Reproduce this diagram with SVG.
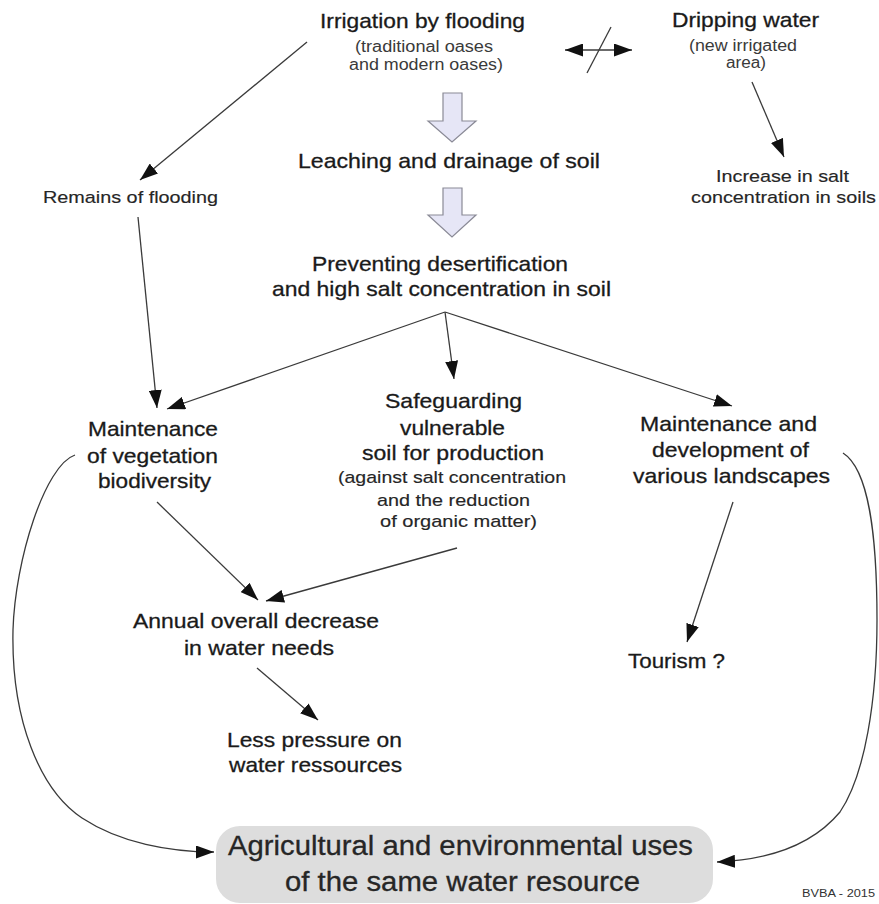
<svg xmlns="http://www.w3.org/2000/svg" width="879" height="904" viewBox="0 0 879 904">
<style>
text{font-family:"Liberation Sans",Arial,sans-serif;fill:#1a1a1a}
.m{font-size:21px;stroke:#1a1a1a;stroke-width:0.3}
.s{font-size:16px;fill:#3a3a3a}
.r{font-size:17px;fill:#262626;stroke:#262626;stroke-width:0.15}
.b{font-size:27px;fill:#262626;stroke:#262626;stroke-width:0.3}
.c{font-size:10px;fill:#333}
.ln{fill:none;stroke:#3a3a3a;stroke-width:1.3}
.blk{fill:#e6e6f6;stroke:#8a8a96;stroke-width:1.2}
</style>
<defs>
<marker id="ah" viewBox="0 0 18 13" refX="18" refY="6.5" markerWidth="18" markerHeight="13" markerUnits="userSpaceOnUse" orient="auto-start-reverse">
<path d="M0,0 L18,6.5 L0,13 z" fill="#111"/>
</marker>
</defs>
<rect width="879" height="904" fill="#ffffff"/>

<g id="connectors">
<path class="ln" d="M307,42 L140,180" marker-end="url(#ah)"/>
<path class="ln" d="M565,50 L632,50" marker-start="url(#ah)" marker-end="url(#ah)"/>
<path class="ln" d="M587,73 L611,27"/>
<path class="ln" d="M752,82 L784,157" marker-end="url(#ah)"/>
<path class="ln" d="M138,217 L157,408" marker-end="url(#ah)"/>
<path class="ln" d="M445,312 L167,409" marker-end="url(#ah)"/>
<path class="ln" d="M445,312 L454,379" marker-end="url(#ah)"/>
<path class="ln" d="M445,312 L732,406" marker-end="url(#ah)"/>
<path class="ln" d="M157,502 L258,600" marker-end="url(#ah)"/>
<path class="ln" d="M457,548 L266,601" marker-end="url(#ah)"/>
<path class="ln" d="M257,668 L318,720" marker-end="url(#ah)"/>
<path class="ln" d="M733,502 L687,642" marker-end="url(#ah)"/>
<path class="ln" d="M75,455 C45,465 15,560 13,630 C11,720 40,790 82,818 C120,843 170,852 214,852" marker-end="url(#ah)"/>
<path class="ln" d="M843,453 C870,470 877,540 877,620 C877,700 865,775 840,812 C810,848 765,860 717,862" marker-end="url(#ah)"/>
<polygon class="blk" points="443,93 462,93 462,121 476,121 452,142 428,121 443,121"/>
<polygon class="blk" points="443,188 462,188 462,215 476,215 452,237 428,215 443,215"/>
</g>

<g id="irrigation">
<text class="m" x="320" y="28" textLength="205" lengthAdjust="spacingAndGlyphs">Irrigation by flooding</text>
<text class="s" x="355" y="52" textLength="138" lengthAdjust="spacingAndGlyphs">(traditional oases</text>
<text class="s" x="349" y="70" textLength="154" lengthAdjust="spacingAndGlyphs">and modern oases)</text>
</g>
<g id="dripping">
<text class="m" x="672" y="27" textLength="147" lengthAdjust="spacingAndGlyphs">Dripping water</text>
<text class="s" x="689" y="51" textLength="108" lengthAdjust="spacingAndGlyphs">(new irrigated</text>
<text class="s" x="726" y="68" textLength="40" lengthAdjust="spacingAndGlyphs">area)</text>
</g>
<g id="increase">
<text class="r" x="716" y="182" textLength="133" lengthAdjust="spacingAndGlyphs">Increase in salt</text>
<text class="r" x="691" y="203" textLength="185" lengthAdjust="spacingAndGlyphs">concentration in soils</text>
</g>
<g id="remains">
<text class="r" x="43" y="203" textLength="175" lengthAdjust="spacingAndGlyphs">Remains of flooding</text>
</g>
<g id="leaching">
<text class="m" x="298" y="168" textLength="302" lengthAdjust="spacingAndGlyphs">Leaching and drainage of soil</text>
</g>
<g id="preventing">
<text class="m" x="312" y="271" textLength="256" lengthAdjust="spacingAndGlyphs">Preventing desertification</text>
<text class="m" x="272" y="296" textLength="339" lengthAdjust="spacingAndGlyphs">and high salt concentration in soil</text>
</g>
<g id="vegetation">
<text class="m" x="88" y="436" textLength="130" lengthAdjust="spacingAndGlyphs">Maintenance</text>
<text class="m" x="87" y="463" textLength="131" lengthAdjust="spacingAndGlyphs">of vegetation</text>
<text class="m" x="98" y="488" textLength="113" lengthAdjust="spacingAndGlyphs">biodiversity</text>
</g>
<g id="safeguarding">
<text class="m" x="385" y="408" textLength="137" lengthAdjust="spacingAndGlyphs">Safeguarding</text>
<text class="m" x="400" y="435" textLength="105" lengthAdjust="spacingAndGlyphs">vulnerable</text>
<text class="m" x="362" y="460" textLength="182" lengthAdjust="spacingAndGlyphs">soil for production</text>
<text class="r" x="338" y="483" textLength="228" lengthAdjust="spacingAndGlyphs">(against salt concentration</text>
<text class="r" x="377" y="506" textLength="153" lengthAdjust="spacingAndGlyphs">and the reduction</text>
<text class="r" x="380" y="527" textLength="157" lengthAdjust="spacingAndGlyphs">of organic matter)</text>
</g>
<g id="landscapes">
<text class="m" x="640" y="431" textLength="177" lengthAdjust="spacingAndGlyphs">Maintenance and</text>
<text class="m" x="652" y="457" textLength="157" lengthAdjust="spacingAndGlyphs">development of</text>
<text class="m" x="633" y="483" textLength="197" lengthAdjust="spacingAndGlyphs">various landscapes</text>
</g>
<g id="annual">
<text class="m" x="133" y="628" textLength="246" lengthAdjust="spacingAndGlyphs">Annual overall decrease</text>
<text class="m" x="184" y="655" textLength="150" lengthAdjust="spacingAndGlyphs">in water needs</text>
</g>
<g id="pressure">
<text class="m" x="227" y="747" textLength="175" lengthAdjust="spacingAndGlyphs">Less pressure on</text>
<text class="m" x="229" y="772" textLength="173" lengthAdjust="spacingAndGlyphs">water ressources</text>
</g>
<g id="tourism">
<text class="m" x="628" y="668" textLength="97" lengthAdjust="spacingAndGlyphs">Tourism ?</text>
</g>
<g id="uses">
<rect x="216" y="826" width="497" height="77" rx="24" ry="24" fill="#dddddd"/>
<text class="b" x="228" y="855" textLength="465" lengthAdjust="spacingAndGlyphs">Agricultural and environmental uses</text>
<text class="b" x="285" y="891" textLength="355" lengthAdjust="spacingAndGlyphs">of the same water resource</text>
</g>
<g id="credit">
<text class="c" x="802" y="897" textLength="73" lengthAdjust="spacingAndGlyphs">BVBA - 2015</text>
</g>
</svg>
